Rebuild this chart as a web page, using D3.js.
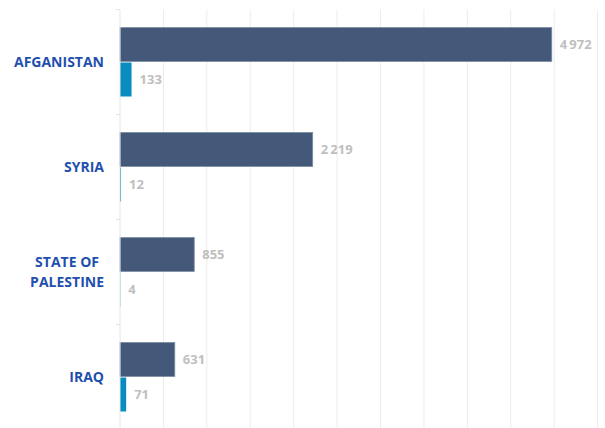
<!DOCTYPE html>
<html>
<head>
<meta charset="utf-8">
<script src="https://cdn.jsdelivr.net/npm/d3@7"></script>
<style>
  html, body { margin: 0; padding: 0; background: #ffffff; }
  svg { display: block; }
</style>
</head>
<body>
<svg id="chart" width="605" height="428"></svg>
<script>
// Countries of origin, each split into two series
const categories = ["AFGANISTAN", "SYRIA", "STATE OF\nPALESTINE", "IRAQ"];
const seriesKeys = ["first", "second"];
const firstValues = [4972, 2219, 855, 631];
const secondValues = [133, 12, 4, 71];
const xTicks = [0, 500, 1000, 1500, 2000, 2500, 3000, 3500, 4000, 4500, 5000, 5500];

const colors = { first: "#44597a", second: "#0a8bc2" };

const rows = categories.map((c, i) => ({
  category: c,
  first: firstValues[i],
  second: secondValues[i]
}));

const svg = d3.select("#chart");
const plotLeft = 120, plotRight = 597.6, plotTop = 9.5, plotBottom = 429.5;

const x = d3.scaleLinear().domain([0, 5500]).range([plotLeft, plotRight]);
const y0 = d3.scaleBand().domain(categories).range([plotTop, plotBottom]);
const y1 = d3.scaleBand().domain(seriesKeys).range([18, 87]).paddingInner(0.03);

// Value format with a thin space as thousands separator
const fmt = d3.formatLocale({ decimal: ",", thousands: "\u2009", grouping: [3], currency: ["", ""] }).format(",d");

// Vertical gridlines
svg.append("g")
  .selectAll("line")
  .data(xTicks.slice(1))
  .join("line")
  .attr("x1", d => x(d)).attr("x2", d => x(d))
  .attr("y1", plotTop).attr("y2", 428)
  .attr("stroke", "#ececec")
  .attr("stroke-width", 1);

// Bars
const groups = svg.append("g")
  .selectAll("g")
  .data(rows)
  .join("g")
  .attr("transform", d => `translate(0,${y0(d.category)})`);

groups.selectAll("rect")
  .data(d => seriesKeys.map(k => ({ key: k, value: d[k] })))
  .join("rect")
  .attr("x", x(0))
  .attr("y", d => y1(d.key))
  .attr("width", d => x(d.value) - x(0))
  .attr("height", y1.bandwidth())
  .attr("fill", d => colors[d.key])
  .attr("stroke", d => d.key === "first" ? "#7d8ca4" : "none")
  .attr("stroke-width", 0.8);

// Category axis with ticks at band boundaries, drawn over the bar bases
const axisG = svg.append("g");
axisG.append("line")
  .attr("x1", plotLeft).attr("x2", plotLeft)
  .attr("y1", plotTop).attr("y2", 428)
  .attr("stroke", "#e6e6e6");
axisG.selectAll("line.tick")
  .data(categories)
  .join("line")
  .attr("class", "tick")
  .attr("x1", plotLeft - 4).attr("x2", plotLeft)
  .attr("y1", d => y0(d)).attr("y2", d => y0(d))
  .attr("stroke", "#e2e2e2");

// Value labels
groups.selectAll("text.value")
  .data(d => seriesKeys.map(k => ({ key: k, value: d[k] })))
  .join("text")
  .attr("class", "value")
  .attr("x", d => x(d.value) + 8)
  .attr("y", d => y1(d.key) + y1.bandwidth() / 2)
  .attr("dy", "0.36em")
  .attr("font-family", "'Open Sans', sans-serif")
  .attr("font-weight", 700)
  .attr("font-size", "13px")
  .attr("fill", "#bfbfbf")
  .text(d => fmt(d.value));

// Category labels: lines centred on each other, block right-aligned
const labelRight = 104;
const lineGap = 19.5;
categories.forEach(c => {
  const lines = c.split("\n");
  const cy = y0(c) + y0.bandwidth() / 2;
  const t = svg.append("text")
    .attr("font-family", "'Open Sans', sans-serif")
    .attr("font-weight", 700)
    .attr("font-size", "14px")
    .attr("fill", "#1f4fae");
  const spans = lines.map((ln, i) => t.append("tspan")
    .attr("y", cy + (i - (lines.length - 1) / 2) * lineGap)
    .attr("dy", "0.36em")
    .text(ln));
  const widths = spans.map(s => s.node().getComputedTextLength());
  const maxW = d3.max(widths);
  const center = labelRight - maxW / 2;
  spans.forEach(s => s.attr("x", center).attr("text-anchor", "middle"));
});
</script>
</body>
</html>
